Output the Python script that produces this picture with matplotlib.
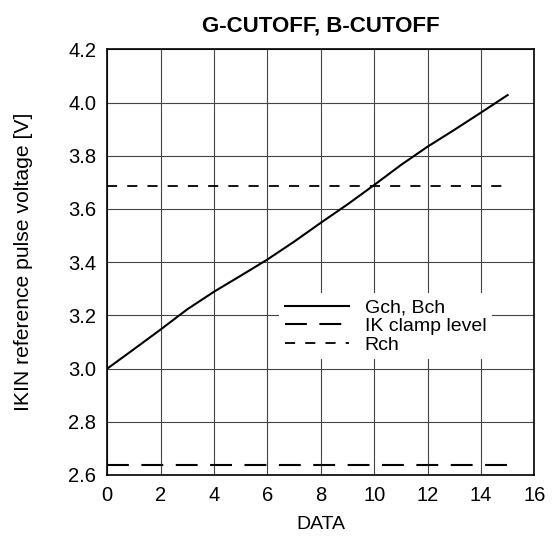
import matplotlib.pyplot as plt
import numpy as np

plt.rcParams['font.family'] = ['Liberation Sans', 'DejaVu Sans']

# values
data = [0, 1, 2, 3, 4, 5, 6, 7, 8, 9, 10, 11, 12, 13, 14, 15]
gch_bch = [3.00, 3.073, 3.147, 3.223, 3.289, 3.349, 3.41, 3.477,
           3.548, 3.617, 3.69, 3.765, 3.834, 3.897, 3.962, 4.028]
rch_level = 3.686
ik_clamp_level = 2.637
level_span = [0, 15]

fig = plt.figure(figsize=(5.52, 5.36), dpi=100)
ax = fig.add_axes([107.3 / 552, 1 - 475 / 536, 427 / 552, 425.7 / 536])

ax.plot(data, gch_bch, color='black', lw=1.5, label='Gch, Bch')
ax.plot(level_span, [ik_clamp_level] * 2, color='black', lw=1.5,
        dashes=(10.5, 6), label='IK clamp level')
ax.plot(level_span, [rch_level] * 2, color='black', lw=1.3,
        dashes=(5.6, 5.6), label='Rch')

ax.set_xlim(0, 16)
ax.set_ylim(2.6, 4.2)
ax.set_xticks(np.arange(0, 17, 2))
ax.set_yticks(np.arange(2.6, 4.21, 0.2))
ax.set_yticklabels([f'{v:.1f}' for v in np.arange(2.6, 4.21, 0.2)])
ax.tick_params(length=0, labelsize=14.5, pad=8)
ax.grid(True, color='#444444', lw=0.8)
ax.set_axisbelow(True)
for sp in ax.spines.values():
    sp.set_linewidth(1.2)

ax.set_xlabel('DATA', fontsize=14, labelpad=8)
ax.set_ylabel('IKIN reference pulse voltage [V]', fontsize=15.2)
ax.yaxis.set_label_coords(-74 / 427, 0.5)
ax.set_title('G-CUTOFF, B-CUTOFF', fontsize=16, fontweight='bold', pad=13)

leg = ax.legend(loc='upper left', bbox_to_anchor=(0.402, 0.4275), frameon=True,
                fontsize=14, handlelength=3.3, handletextpad=0.8,
                labelspacing=0.05, borderpad=0.3, borderaxespad=0,
                fancybox=False)
leg.get_frame().set_edgecolor('none')
leg.get_frame().set_facecolor('white')
leg.get_frame().set_alpha(1)

fig.savefig('out.png', dpi=100)
